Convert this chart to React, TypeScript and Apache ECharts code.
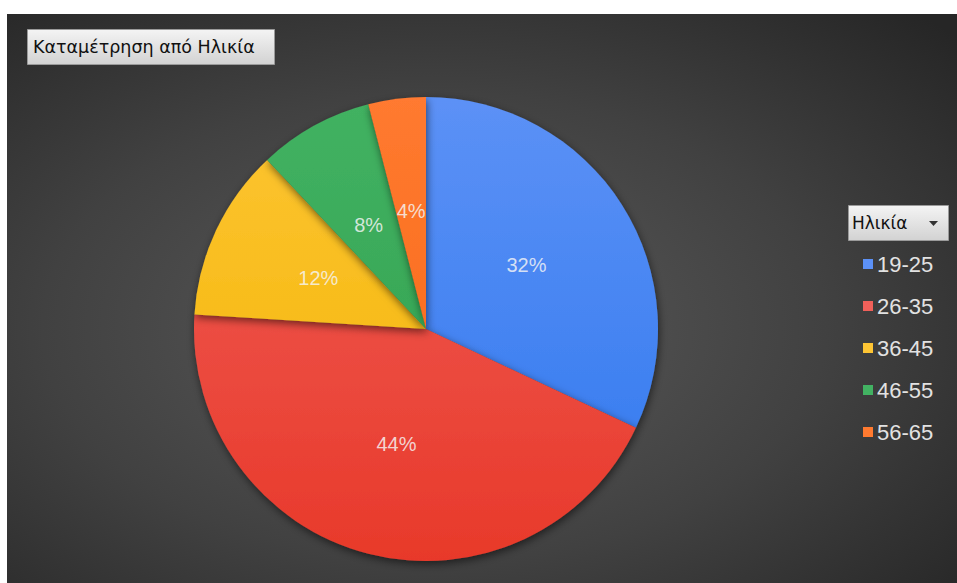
import React, { useEffect, useRef } from "react";
import * as echarts from "echarts";

const categories = ["19-25", "26-35", "36-45", "46-55", "56-65"];
const counts = [8, 11, 3, 2, 1];
const titleText = "Καταμέτρηση από Ηλικία";
const legendTitle = "Ηλικία";
const sliceTop = ["#5c91f6", "#f0605a", "#fdc534", "#42b262", "#ff7a30"];
const sliceBottom = ["#2f78ee", "#e8392a", "#f2b300", "#2e9e4c", "#f66512"];

export default function App() {
  const ref = useRef<HTMLDivElement>(null);
  useEffect(() => {
    if (!ref.current) return;
    const chart = echarts.init(ref.current, null, { renderer: "svg" });
    const data = categories.map((name, i) => ({
      name,
      value: counts[i],
      itemStyle: {
        color: {
          type: "linear",
          x: 0,
          y: 97,
          x2: 0,
          y2: 561,
          global: true,
          colorStops: [
            { offset: 0, color: sliceTop[i] },
            { offset: 1, color: sliceBottom[i] },
          ],
        },
      },
    }));
    const btnFill = {
      type: "linear",
      x: 0,
      y: 0,
      x2: 0,
      y2: 1,
      colorStops: [
        { offset: 0, color: "#f4f4f4" },
        { offset: 1, color: "#d2d2d2" },
      ],
    };
    chart.setOption({
      animation: false,
      backgroundColor: "#ffffff",
      color: sliceBottom,
      graphic: [
        {
          type: "rect",
          z: -10,
          silent: true,
          shape: { x: 7, y: 14, width: 950, height: 569 },
          style: {
            fill: {
              type: "radial",
              x: 0.45,
              y: 0.55,
              r: 0.75,
              colorStops: [
                { offset: 0, color: "#5b5b5b" },
                { offset: 0.55, color: "#414141" },
                { offset: 1, color: "#262626" },
              ],
            },
          },
        },
        {
          type: "rect",
          shape: { x: 27.5, y: 29.5, width: 247, height: 35 },
          style: { fill: btnFill, stroke: "#9a9a9a", lineWidth: 1 },
        },
        {
          type: "text",
          x: 33,
          y: 47,
          style: {
            text: titleText,
            fill: "#111111",
            font: "17.5px 'DejaVu Sans'",
            verticalAlign: "middle",
          },
        },
        {
          type: "rect",
          shape: { x: 848.5, y: 205.5, width: 100, height: 35 },
          style: { fill: btnFill, stroke: "#9a9a9a", lineWidth: 1 },
        },
        {
          type: "text",
          x: 852,
          y: 223,
          style: {
            text: legendTitle,
            fill: "#111111",
            font: "17px 'DejaVu Sans'",
            verticalAlign: "middle",
          },
        },
        {
          type: "polygon",
          shape: { points: [[929, 221], [938, 221], [933.5, 226]] },
          style: { fill: "#333333" },
        },
      ],
      legend: {
        orient: "vertical",
        left: 858,
        top: 247,
        icon: "rect",
        itemWidth: 10,
        itemHeight: 10,
        itemGap: 18,
        selectedMode: false,
        data: categories,
        textStyle: {
          color: "#e2e2e2",
          fontSize: 22,
          fontFamily: "'Liberation Sans', Arial, sans-serif",
          lineHeight: 24,
          padding: [0, 0, 0, -1],
        },
      },
      series: [
        {
          type: "pie",
          center: [426, 329],
          radius: [0, 232],
          startAngle: 90,
          clockwise: true,
          data,
          label: {
            show: true,
            position: "inside",
            formatter: (p: any) => Math.round(p.percent) + "%",
            color: "rgba(245,245,245,0.82)",
            fontSize: 20,
            fontFamily: "'Liberation Sans', Arial, sans-serif",
          },
          labelLine: { show: false },
          itemStyle: {
            shadowBlur: 8,
            shadowOffsetX: 1,
            shadowOffsetY: 3,
            shadowColor: "rgba(0,0,0,0.55)",
            borderWidth: 0,
          },
          emphasis: { disabled: true },
        },
      ],
    });
    return () => chart.dispose();
  }, []);
  return (
    <div
      ref={ref}
      style={{ position: "fixed", left: 0, top: 0, width: 957, height: 583 }}
    />
  );
}
